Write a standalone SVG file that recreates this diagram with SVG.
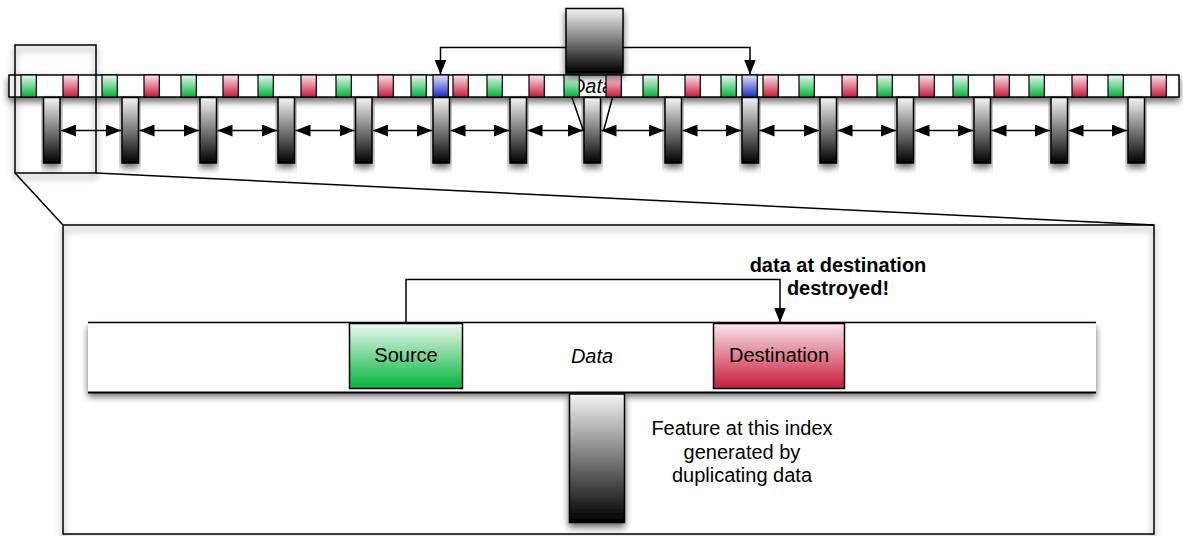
<svg xmlns="http://www.w3.org/2000/svg" width="1183" height="536" viewBox="0 0 1183 536">
  <style>
    text { font-family: "Liberation Sans", Arial, Helvetica, sans-serif; fill: #000; }
    .lbl { font-size: 20px; text-anchor: middle; }
    .it { font-style: italic; }
    .bold { font-weight: bold; }
    .edge { fill: none; stroke: #000; stroke-width: 1.5; }
    .arrow { fill: none; stroke: #000; stroke-width: 1.5; marker-end: url(#ah); }
    .dbl { fill: none; stroke: #000; stroke-width: 1.5; marker-start: url(#ah); marker-end: url(#ah); }
    .cell { stroke: #000; stroke-width: 1.2; }
    .g { fill: url(#gGreen); }
    .r { fill: url(#gRed); }
    .b { fill: url(#gBlue); }
    .post { fill: url(#gGray); stroke: #000; stroke-width: 1.5; filter: url(#shadow); }
  </style>
  <defs>
    <linearGradient id="gGreen" x1="0" y1="0" x2="0" y2="1">
      <stop offset="0" stop-color="#eef8f0"/>
      <stop offset="1" stop-color="#00b33c"/>
    </linearGradient>
    <linearGradient id="gRed" x1="0" y1="0" x2="0" y2="1">
      <stop offset="0" stop-color="#f8e6ea"/>
      <stop offset="1" stop-color="#c81a3a"/>
    </linearGradient>
    <linearGradient id="gBlue" x1="0" y1="0" x2="0" y2="1">
      <stop offset="0" stop-color="#e2e4f8"/>
      <stop offset="1" stop-color="#1a2ec4"/>
    </linearGradient>
    <linearGradient id="gGray" x1="0" y1="0" x2="0" y2="1">
      <stop offset="0" stop-color="#f4f4f4"/>
      <stop offset="1" stop-color="#000"/>
    </linearGradient>
    <filter id="shadow" x="-15%" y="-60%" width="130%" height="260%">
      <feGaussianBlur in="SourceAlpha" stdDeviation="3.5"/>
      <feOffset dy="4"/>
      <feComponentTransfer><feFuncA type="linear" slope="0.6"/></feComponentTransfer>
      <feMerge><feMergeNode/><feMergeNode in="SourceGraphic"/></feMerge>
    </filter>
    <marker id="ah" viewBox="0 0 15 12" refX="15" refY="6" markerWidth="15" markerHeight="12" markerUnits="userSpaceOnUse" orient="auto-start-reverse">
      <path d="M0,0 L15,6 L0,12 z" fill="#000"/>
    </marker>
  </defs>

  <!-- enlarged view frame -->
  <g id="detail-frame">
    <rect x="63" y="225" width="1091" height="309" fill="none" stroke="#000" stroke-width="1.5" filter="url(#shadow)"/>
  </g>

  <!-- storage track -->
  <g id="track">
    <rect x="9" y="75" width="1170" height="22" fill="#fff" stroke="#000" stroke-width="1.5" filter="url(#shadow)"/>
    <text class="lbl it" x="592" y="93">Data</text>
  </g>

  <!-- feature posts under the track -->
  <g id="posts">
    <rect id="post-01" class="post" x="43.5" y="97.5" width="16.5" height="65.5"/>
    <rect id="post-02" class="post" x="122" y="97.5" width="16.5" height="65.5"/>
    <rect id="post-03" class="post" x="200" y="97.5" width="16.5" height="65.5"/>
    <rect id="post-04" class="post" x="278" y="97.5" width="16.5" height="65.5"/>
    <rect id="post-05" class="post" x="355.5" y="97.5" width="16.5" height="65.5"/>
    <rect id="post-06" class="post" x="433" y="97.5" width="16.5" height="65.5"/>
    <rect id="post-07" class="post" x="510" y="97.5" width="16.5" height="65.5"/>
    <rect id="post-08" class="post" x="584" y="97.5" width="16.5" height="65.5"/>
    <rect id="post-09" class="post" x="665" y="97.5" width="16.5" height="65.5"/>
    <rect id="post-10" class="post" x="742" y="97.5" width="16.5" height="65.5"/>
    <rect id="post-11" class="post" x="820" y="97.5" width="16.5" height="65.5"/>
    <rect id="post-12" class="post" x="897" y="97.5" width="16.5" height="65.5"/>
    <rect id="post-13" class="post" x="974" y="97.5" width="16.5" height="65.5"/>
    <rect id="post-14" class="post" x="1051" y="97.5" width="16.5" height="65.5"/>
    <rect id="post-15" class="post" x="1128" y="97.5" width="16.5" height="65.5"/>
  </g>

  <!-- source / destination cells on the track -->
  <g id="cells">
    <rect id="cell-s01" class="cell g" x="21" y="75" width="15.3" height="22"/>
    <rect id="cell-d01" class="cell r" x="63" y="75" width="15.3" height="22"/>
    <rect id="cell-s02" class="cell g" x="102" y="75" width="15.3" height="22"/>
    <rect id="cell-d02" class="cell r" x="144" y="75" width="15.3" height="22"/>
    <rect id="cell-s03" class="cell g" x="181" y="75" width="15.3" height="22"/>
    <rect id="cell-d03" class="cell r" x="223" y="75" width="15.3" height="22"/>
    <rect id="cell-s04" class="cell g" x="258" y="75" width="15.3" height="22"/>
    <rect id="cell-d04" class="cell r" x="301" y="75" width="15.3" height="22"/>
    <rect id="cell-s05" class="cell g" x="336" y="75" width="15.3" height="22"/>
    <rect id="cell-d05" class="cell r" x="378" y="75" width="15.3" height="22"/>
    <rect id="cell-s06" class="cell g" x="411" y="75" width="15.3" height="22"/>
    <rect id="cell-x01" class="cell b" x="433" y="75" width="15.3" height="22"/>
    <rect id="cell-d06" class="cell r" x="453" y="75" width="15.3" height="22"/>
    <rect id="cell-s07" class="cell g" x="487" y="75" width="15.3" height="22"/>
    <rect id="cell-d07" class="cell r" x="529" y="75" width="15.3" height="22"/>
    <rect id="cell-s08" class="cell g" x="564" y="75" width="15.3" height="22"/>
    <rect id="cell-d08" class="cell r" x="606" y="75" width="15.3" height="22"/>
    <rect id="cell-s09" class="cell g" x="643" y="75" width="15.3" height="22"/>
    <rect id="cell-d09" class="cell r" x="685" y="75" width="15.3" height="22"/>
    <rect id="cell-s10" class="cell g" x="721" y="75" width="15.3" height="22"/>
    <rect id="cell-x02" class="cell b" x="742" y="75" width="15.3" height="22"/>
    <rect id="cell-d10" class="cell r" x="763" y="75" width="15.3" height="22"/>
    <rect id="cell-s11" class="cell g" x="799" y="75" width="15.3" height="22"/>
    <rect id="cell-d11" class="cell r" x="842" y="75" width="15.3" height="22"/>
    <rect id="cell-s12" class="cell g" x="877" y="75" width="15.3" height="22"/>
    <rect id="cell-d12" class="cell r" x="919" y="75" width="15.3" height="22"/>
    <rect id="cell-s13" class="cell g" x="953" y="75" width="15.3" height="22"/>
    <rect id="cell-d13" class="cell r" x="994" y="75" width="15.3" height="22"/>
    <rect id="cell-s14" class="cell g" x="1029" y="75" width="15.3" height="22"/>
    <rect id="cell-d14" class="cell r" x="1072" y="75" width="15.3" height="22"/>
    <rect id="cell-s15" class="cell g" x="1108" y="75" width="15.3" height="22"/>
    <rect id="cell-d15" class="cell r" x="1151" y="75" width="15.3" height="22"/>
  </g>

  <!-- shared block feeding two cells -->
  <g id="shared-block">
    <rect x="566" y="8.5" width="57" height="64.5" fill="url(#gGray)" stroke="#000" stroke-width="1.5" filter="url(#shadow)"/>
  </g>

  <!-- magnified section -->
  <g id="detail-track">
    <rect x="88" y="322.5" width="1008" height="70" fill="#fff" filter="url(#shadow)"/>
    <line x1="88" y1="322.5" x2="1096" y2="322.5" stroke="#000" stroke-width="1.5"/>
    <line x1="88" y1="392.5" x2="1096" y2="392.5" stroke="#000" stroke-width="2"/>
    <text class="lbl it" x="592" y="363">Data</text>
  </g>
  <g id="source">
    <rect x="349.5" y="323.5" width="113" height="65" fill="url(#gGreen)" stroke="#000" stroke-width="1.5"/>
    <text class="lbl" x="406" y="362">Source</text>
  </g>
  <g id="destination">
    <rect x="713.5" y="323.5" width="131" height="65" fill="url(#gRed)" stroke="#000" stroke-width="1.5"/>
    <text class="lbl" x="779" y="362">Destination</text>
  </g>
  <g id="feature">
    <rect x="569.5" y="394" width="55" height="128.5" fill="url(#gGray)" stroke="#000" stroke-width="1.5" filter="url(#shadow)"/>
  </g>
  <g id="feature-note">
    <text class="lbl" x="742" y="435">Feature at this index</text>
    <text class="lbl" x="742" y="458.5">generated by</text>
    <text class="lbl" x="742" y="482">duplicating data</text>
  </g>
  <g id="warning-note">
    <text class="lbl bold" x="838" y="272">data at destination</text>
    <text class="lbl bold" x="838" y="295">destroyed!</text>
  </g>

  <!-- connectors -->
  <g id="connectors">
    <rect x="15" y="45" width="81" height="128" class="edge" filter="url(#shadow)"/>
    <line class="edge" x1="15" y1="173" x2="63" y2="225"/>
    <line class="edge" x1="96" y1="173" x2="1154" y2="225"/>

    <path class="arrow" d="M566,47.5 H440.5 V74.5"/>
    <path class="arrow" d="M623,47.5 H750 V74.5"/>

    <line class="edge" x1="572" y1="97.5" x2="583.5" y2="131"/>
    <line class="edge" x1="612.5" y1="97.5" x2="603.5" y2="131"/>

    <line class="dbl" x1="61" y1="130.5" x2="121" y2="130.5"/>
    <line class="dbl" x1="139.5" y1="130.5" x2="199" y2="130.5"/>
    <line class="dbl" x1="217.5" y1="130.5" x2="277" y2="130.5"/>
    <line class="dbl" x1="295.5" y1="130.5" x2="354.5" y2="130.5"/>
    <line class="dbl" x1="373" y1="130.5" x2="432" y2="130.5"/>
    <line class="dbl" x1="450.5" y1="130.5" x2="509" y2="130.5"/>
    <line class="dbl" x1="527.5" y1="130.5" x2="583" y2="130.5"/>
    <line class="dbl" x1="601.5" y1="130.5" x2="664" y2="130.5"/>
    <line class="dbl" x1="682.5" y1="130.5" x2="741" y2="130.5"/>
    <line class="dbl" x1="759.5" y1="130.5" x2="819" y2="130.5"/>
    <line class="dbl" x1="837.5" y1="130.5" x2="896" y2="130.5"/>
    <line class="dbl" x1="914.5" y1="130.5" x2="973" y2="130.5"/>
    <line class="dbl" x1="991.5" y1="130.5" x2="1050" y2="130.5"/>
    <line class="dbl" x1="1068.5" y1="130.5" x2="1127" y2="130.5"/>

    <path class="arrow" d="M406,323.5 V279.5 H780 V322.5"/>
  </g>
</svg>
